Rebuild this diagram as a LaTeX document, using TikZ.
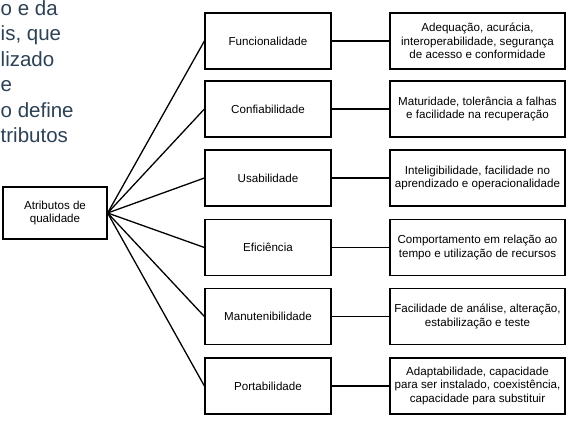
\documentclass[tikz,border=0pt]{standalone}
\usepackage{fontspec}
\setmainfont{Liberation Sans}
\usepackage{tikz}

\definecolor{slidetext}{RGB}{46,66,86}

\begin{document}
\begin{tikzpicture}[x=1pt, y=-1pt,
	box/.style = {rectangle, draw=black, line width=1.2pt, align=center,
		minimum height=56pt, inner sep=2pt,
		font=\fontsize{11.6}{13.3}\selectfont},
	attr/.style = {box, minimum width=126pt},
	detail/.style = {box, minimum width=175pt},
	link/.style = {draw=black, line width=1.3pt},
	slide/.style = {anchor=base west, inner sep=0pt, text=slidetext,
		font=\fontsize{20.5}{24}\selectfont}]
	\useasboundingbox (0,0) rectangle (571,422);
	\fill[white] (0,0) rectangle (571,422);
	% text of the slide behind the figure
	\node[slide] (t1) at(0.5,16){o e da};
	\node[slide] (t2) at(0.5,41){is, que};
	\node[slide] (t3) at(0.5,67){lizado};
	\node[slide] (t4) at(0.5,92){e};
	\node[slide] (t5) at(0.5,118){o define};
	\node[slide] (t6) at(0.5,143){tributos};
	\node[box, minimum width=104pt, minimum height=52pt] (Q) at(55,213){Atributos de\\qualidade};
	\node[attr] (f1) at(268,41){Funcionalidade};
	\node[attr] (f2) at(268,109){Confiabilidade};
	\node[attr] (f3) at(268,178){Usabilidade};
	\node[attr] (f4) at(268,247.5){Eficiência};
	\node[attr] (f5) at(268,316.5){Manutenibilidade};
	\node[attr] (f6) at(268,386){Portabilidade};
	\node[detail] (s1) at(477.5,41){Adequação, acurácia,\\interoperabilidade, segurança\\de acesso e conformidade};
	\node[detail] (s2) at(477.5,109){Maturidade, tolerância a falhas\\e facilidade na recuperação};
	\node[detail] (s3) at(477.5,178){Inteligibilidade, facilidade no\\aprendizado e operacionalidade};
	\node[detail] (s4) at(477.5,247.5){Comportamento em relação ao\\tempo e utilização de recursos};
	\node[detail] (s5) at(477.5,316.5){Facilidade de análise, alteração,\\estabilização e teste};
	\node[detail] (s6) at(477.5,386){Adaptabilidade, capacidade\\para ser instalado, coexistência,\\capacidade para substituir};
	\draw[link] (Q.east) -- (f1.west);
	\draw[link] (Q.east) -- (f2.west);
	\draw[link] (Q.east) -- (f3.west);
	\draw[link] (Q.east) -- (f4.west);
	\draw[link] (Q.east) -- (f5.west);
	\draw[link] (Q.east) -- (f6.west);
	\draw[link] (f1) -- (s1);
	\draw[link] (f2) -- (s2);
	\draw[link] (f3) -- (s3);
	\draw[link] (f4) -- (s4);
	\draw[link] (f5) -- (s5);
	\draw[link] (f6) -- (s6);
\end{tikzpicture}
\end{document}
